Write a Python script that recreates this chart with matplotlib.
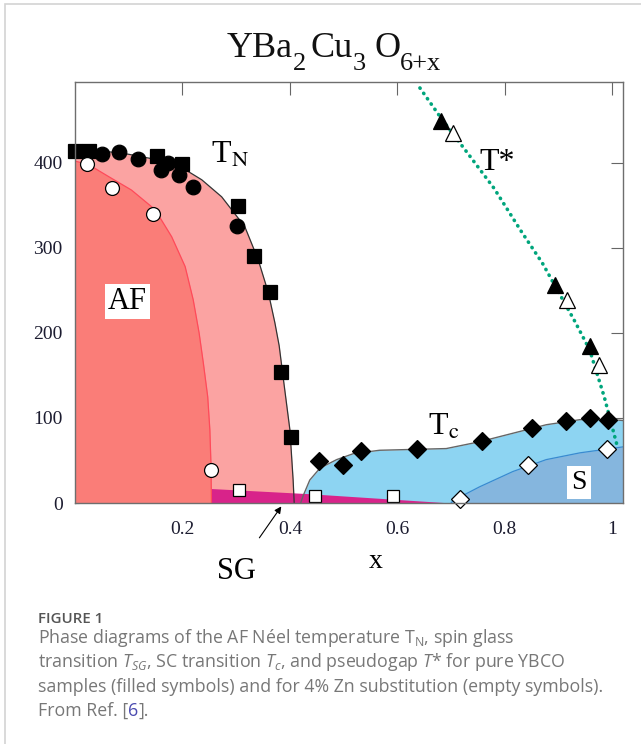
import numpy as np
import matplotlib
matplotlib.use('Agg')
import matplotlib.pyplot as plt
from matplotlib.patches import Rectangle
from matplotlib.offsetbox import TextArea, HPacker, AnnotationBbox

plt.rcParams['font.family'] = 'Liberation Serif'
plt.rcParams['mathtext.fontset'] = 'stix'
plt.rcParams['mathtext.rm'] = 'Open Sans'
plt.rcParams['mathtext.it'] = 'Open Sans:italic'
plt.rcParams['mathtext.bf'] = 'Open Sans:bold'

W, H = 641, 744

# --- phase boundaries ---
tn_x = [0.0, 0.05, 0.10, 0.15, 0.205, 0.236, 0.273, 0.316, 0.341, 0.36, 0.372, 0.38, 0.388, 0.40, 0.406, 0.408]
tn_y = [415, 414, 410, 404, 392, 380, 360, 325, 286, 247, 212, 185, 145, 86, 27, 0]

af_zn_x = [0.0, 0.025, 0.062, 0.105, 0.149, 0.180, 0.205, 0.220, 0.231, 0.239, 0.247, 0.251, 0.253, 0.254]
af_zn_y = [402, 398, 384, 368, 345, 313, 278, 239, 200, 164, 125, 86, 47, 0]

sg_x = [0.254, 0.434, 0.70]
sg_y = [17, 11, 0]

tc_x = [0.42, 0.425, 0.437, 0.456, 0.487, 0.518, 0.567, 0.629, 0.691, 0.753, 0.815, 0.877, 0.94, 1.0, 1.02]
tc_y = [0, 9, 27, 41, 51, 58, 62, 63, 64, 72, 82, 92, 98, 98, 97]

s_x = [0.70, 0.704, 0.753, 0.815, 0.877, 0.94, 1.02]
s_y = [0, 3, 19, 37, 51, 59, 66]

tstar_x = [0.642, 0.682, 0.73, 0.78, 0.83, 0.87, 0.90, 0.93, 0.958, 0.985, 1.008]
tstar_y = [488, 452, 412, 370, 320, 282, 248, 214, 180, 125, 70]

# --- data points ---
tn_sq_x = [0.0, 0.026, 0.153, 0.200, 0.304, 0.334, 0.363, 0.384, 0.402]
tn_sq_y = [414, 414, 408, 399, 349, 291, 248, 154, 78]
tn_ci_x = [0.050, 0.081, 0.118, 0.160, 0.174, 0.193, 0.220, 0.302]
tn_ci_y = [410, 413, 404, 391, 400, 386, 371, 326]
zn_ci_x = [0.022, 0.069, 0.146, 0.253]
zn_ci_y = [398, 370, 340, 39]
zn_sg_x = [0.305, 0.447, 0.591]
zn_sg_y = [15, 8, 8]
tc_pure_x = [0.455, 0.499, 0.533, 0.636, 0.758, 0.850, 0.913, 0.958, 0.992]
tc_pure_y = [49, 45, 61, 63, 73, 88, 97, 100, 98]
tc_zn_x = [0.716, 0.843, 0.990]
tc_zn_y = [5, 45, 63]
ts_pure_x = [0.682, 0.893, 0.959]
ts_pure_y = [449, 256, 185]
ts_zn_x = [0.704, 0.915, 0.975]
ts_zn_y = [435, 239, 162]

x_ticks = [0.2, 0.4, 0.6, 0.8, 1.0]
x_ticklabels = ['0.2', '0.4', '0.6', '0.8', '1']
y_ticks = [0, 100, 200, 300, 400]

# title pieces: (text, is_subscript, gap after in px)
title_parts = [('YBa', False, 0), ('2', True, 5), ('Cu', False, 0),
               ('3', True, 8), ('O', False, 0), ('6+x', True, 0)]


def px(x, y):
    return x / W, 1 - y / H


fig = plt.figure(figsize=(W / 100, H / 100), dpi=100)
ax = fig.add_axes([75 / W, 1 - 503 / H, 548 / W, 421 / H])
ax.set_xlim(0, 1.02)
ax.set_ylim(0, 495)

# regions
ax.fill_between(tn_x, tn_y, 0, color='#fba3a2', lw=0, zorder=3)
ax.plot(tn_x, tn_y, color='#333333', lw=0.9, zorder=3.6)
ax.fill_between(af_zn_x, af_zn_y, 0, color='#fa7d78', lw=0, zorder=3.1)
ax.plot(af_zn_x, af_zn_y, color='#ff4a5a', lw=0.9, zorder=3.6)
ax.fill_between(tc_x, tc_y, 0, color='#8dd4f2', lw=0, zorder=3.2)
ax.plot(tc_x, tc_y, color='#666666', lw=1.0, zorder=3.6)
ax.fill_between(s_x, s_y, 0, color='#85b6de', lw=0, zorder=3.3)
ax.plot(s_x, s_y, color='#3a8ad0', lw=0.9, zorder=3.6)
ax.fill_between(sg_x, sg_y, 0, color='#d8238a', lw=0, zorder=3.4)

ax.plot(tstar_x, tstar_y, color='#00a57c', lw=2.6, linestyle=(0, (0.1, 1.7)),
        dash_capstyle='round', zorder=3.7, clip_on=False)

# markers
mk = dict(linestyle='none', zorder=5, clip_on=False, markeredgecolor='black', markeredgewidth=0.9)
ax.plot(tn_sq_x, tn_sq_y, marker='s', ms=9.5, color='black', **mk)
ax.plot(tn_ci_x, tn_ci_y, marker='o', ms=10.5, color='black', **mk)
ax.plot(zn_ci_x, zn_ci_y, marker='o', ms=10, markerfacecolor='white', **mk)
ax.plot(zn_sg_x, zn_sg_y, marker='s', ms=9, markerfacecolor='white', **mk)
ax.plot(tc_pure_x, tc_pure_y, marker='D', ms=9.5, color='black', **mk)
ax.plot(tc_zn_x, tc_zn_y, marker='D', ms=9, markerfacecolor='white', **mk)
ax.plot(ts_pure_x, ts_pure_y, marker='^', ms=11, color='black', **mk)
ax.plot(ts_zn_x, ts_zn_y, marker='^', ms=11, markerfacecolor='white', **mk)

# labels in the plot
ax.text(0.254, 400, r'T$_\mathrm{N}$', fontsize=23, va='baseline', zorder=6)
ax.text(0.657, 80, r'T$_\mathrm{c}$', fontsize=23, va='baseline', zorder=6)
ax.text(0.753, 392, 'T*', fontsize=23, va='baseline', zorder=6)
ax.text(0.098, 237, 'AF', fontsize=22, ha='center', va='center', zorder=6,
        bbox=dict(facecolor='white', edgecolor='none', pad=2))
ax.text(0.938, 24, 'S', fontsize=20, ha='center', va='center', zorder=6,
        bbox=dict(facecolor='white', edgecolor='none', pad=3))
ax.annotate('SG', xy=(0.384, -4), xytext=(0.30, -80), fontsize=22,
            ha='center', va='center', annotation_clip=False,
            arrowprops=dict(arrowstyle='-|>', color='black', lw=0.8,
                            mutation_scale=10, shrinkA=14, shrinkB=0))

# axes styling
for sp in ax.spines.values():
    sp.set_color('#6e6e6e')
    sp.set_linewidth(1.0)
    sp.set_zorder(7)
ax.set_xticks(x_ticks)
ax.set_xticklabels(x_ticklabels)
ax.set_yticks(y_ticks)
ax.tick_params(direction='in', length=3, width=0.8, color='#555555',
               labelsize=14, labelcolor='#1c1c30')
ax.tick_params(axis='x', pad=13)
ax.tick_params(axis='y', pad=9)
ax.set_xlabel('x', fontsize=20, va='center')
ax.xaxis.set_label_coords(0.549, -0.14)

top = ax.secondary_xaxis('top')
top.set_xticks([0.2, 0.4, 0.6, 0.8, 1.0])
top.tick_params(direction='in', length=9, width=0.8, color='#666666', labeltop=False)
top.spines['top'].set_visible(False)
right = ax.secondary_yaxis('right')
right.set_yticks([100, 200, 300, 400])
right.tick_params(direction='in', length=9, width=0.8, color='#666666', labelright=False)
right.spines['right'].set_visible(False)

# title, built piece by piece so the subscripts sit low like the original
renderer = fig.canvas.get_renderer()
pieces = []
for s, sub, gap in title_parts:
    t = fig.text(0, 0, s, fontsize=19 if sub else 26, va='baseline', color='#111111')
    pieces.append((t, sub, gap))
total = sum(t.get_window_extent(renderer).width + gap for t, sub, gap in pieces)
xcur = 334 - total / 2
for t, sub, gap in pieces:
    t.set_position(px(xcur, 70 if sub else 57))
    xcur += t.get_window_extent(renderer).width + gap

# card border
fig.patches.append(Rectangle(px(5, 760), 1.2, (760 - 4) / H, transform=fig.transFigure,
                             facecolor='none', edgecolor='#d3d3d3', lw=1.2))

# caption
cap = dict(family='Open Sans', fontsize=12.8, color='#777777', va='baseline',
           math_fontfamily='custom')
fig.text(*px(38, 623), 'FIGURE 1', family='Open Sans', fontsize=10.8, color='#555555',
         weight='semibold', va='baseline')
lines = [r'Phase diagrams of the AF Néel temperature T$_\mathrm{N}$, spin glass',
         r'transition $T_{SG}$, SC transition $T_c$, and pseudogap $T$* for pure YBCO',
         'samples (filled symbols) and for 4% Zn substitution (empty symbols).']
for i, s in enumerate(lines):
    fig.text(*px(38, 643 + 24.3 * i), s, **cap)

tp = dict(family='Open Sans', fontsize=12.8, color='#777777')
box = HPacker(children=[TextArea('From Ref. [', textprops=tp),
                        TextArea('6', textprops=dict(tp, color='#4b4bb0')),
                        TextArea('].', textprops=tp)],
              align='baseline', pad=0, sep=0)
fig.add_artist(AnnotationBbox(box, px(38, 719.5), xycoords='figure fraction',
                              box_alignment=(0, 0), frameon=False, pad=0))

fig.savefig('out.png', dpi=100)
